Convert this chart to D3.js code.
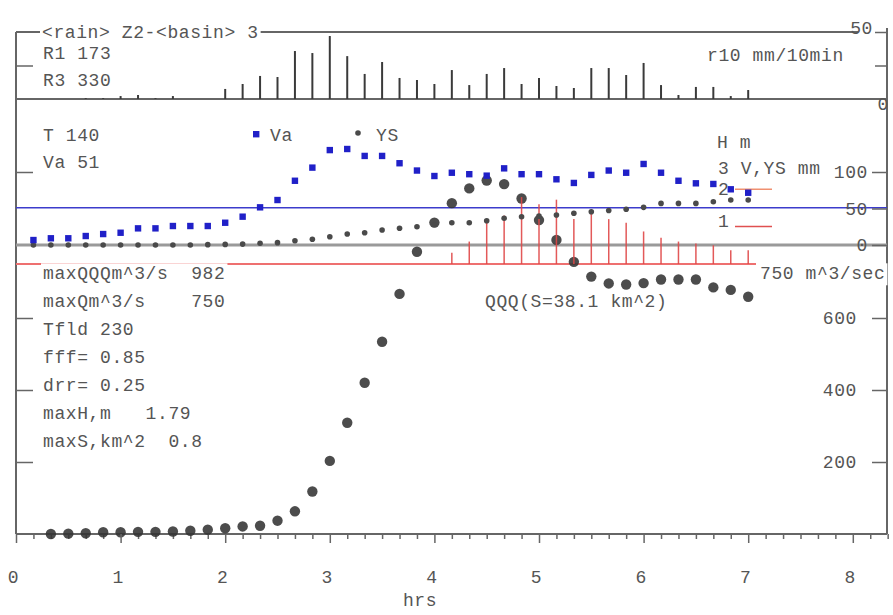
<!DOCTYPE html>
<html>
<head>
<meta charset="utf-8">
<script src="https://cdn.jsdelivr.net/npm/d3@7"></script>
<style>
  body { margin: 0; background: #fff; }
  svg text { font-family: "Liberation Mono", "DejaVu Sans Mono", monospace; font-size: 18px; letter-spacing: 0.6px; fill: #555; white-space: pre; }
</style>
</head>
<body>
<svg id="chart" width="893" height="615"></svg>
<script>
// ---- data: one value every 10 minutes, step k is at k/6 hours ----
const hourTicks = [0, 1, 2, 3, 4, 5, 6, 7, 8];

// r10 rainfall, mm per 10 min, steps 0..42
const rain = [0, 0, 0, 0, 0.7, 0.7, 2.2, 3.0, 0.7, 2.2, 0, 0,
  7.5, 11.2, 17.2, 16.4, 35.8, 34.3, 47.0, 32.0, 18.7, 27.6, 15.7, 14.2, 11.2,
  21.6, 10.4, 18.7, 23.1, 11.2, 15.7, 9.7, 8.2, 23.1, 23.1, 17.9, 26.9, 10.4,
  3.0, 9.0, 9.0, 2.2, 6.7];

// Va, mm, steps 1..42
const vaStart = 1;
const va = [6.8, 9.2, 9.2, 12.3, 15, 16.8, 22.8, 22.8, 26, 26, 26, 30.5, 38.8,
  51.6, 61.6, 88, 106, 130, 131.5, 122, 122, 112, 102, 94.5, 99, 97, 95, 105,
  97, 97, 90, 85, 96, 102, 99, 111, 99, 88, 84.5, 83.6, 76.3, 71.6];

// YS, mm, steps 1..42
const ysStart = 1;
const ys = [0, 0, 0, 0, 0, 0, 0, 0, 0, 0, 0.5, 0.8, 1.2, 2.3, 3.2, 5.9, 7.8,
  11.4, 15, 16.8, 20.5, 22.9, 25, 28, 30.5, 30.5, 33.3, 36.6, 38.8, 39.5, 41,
  43.4, 45.6, 47.3, 48.9, 51.6, 57, 57, 57, 59.3, 61.6, 61.6];

// QQQ discharge, m^3/s, steps 2..42
const qqqStart = 2;
const qqq = [0, 1, 2, 5, 5, 6, 6, 7, 9, 12, 16, 21, 23, 37, 63, 118, 203, 309,
  420, 534, 667, 784, 865, 919, 960, 982, 972, 932, 872, 817, 756, 715, 696,
  693, 697, 707, 707, 707, 685, 678, 659];

// flood depth H, m, steps 25..42 (drawn from the maxQ level)
const hStart = 25;
const hDepth = [0.3, 0.6, 1.2, 1.3, 1.79, 1.6, 1.72, 1.2, 1.45, 1.2, 1.1, 0.87,
  0.7, 0.6, 0.55, 0.5, 0.37, 0.37];

const title = "<rain> Z2-<basin> 3";
const rainStats = ["R1 173", "R3 330"];
const runStats = ["T 140", "Va 51"];
const floodStats = ["maxQQQm^3/s  982", "maxQm^3/s    750", "Tfld 230", "fff= 0.85",
  "drr= 0.25", "maxH,m   1.79", "maxS,km^2  0.8"];
const vaLimit = 51;
const maxQ = 750;
const rainTicks = [0, 25, 50];
const vTicks = [0, 50, 100];
const hTicks = [1, 2];
const qTicks = [200, 400, 600];

// ---- layout ----
const svg = d3.select("#chart");
const left = 16, right = 887, bottom = 534;

const x = d3.scaleLinear().domain([0, 8]).range([16, 852.8]);
const stepX = k => x(k / 6);
const yR = d3.scaleLinear().domain([0, 50]).range([99, 32]);
const yV = d3.scaleLinear().domain([0, 100]).range([245, 172]);
const yQ = d3.scaleLinear().domain([0, 600]).range([534, 318]);
const yH = d3.scaleLinear().domain([0, 1]).range([yQ(maxQ), yQ(maxQ) - 37.4]);

const frameColor = "#666";

function label(g, tx, ty, str, opts = {}) {
  const t = g.append("text").attr("x", tx).attr("y", ty).attr("dy", "0.35em")
    .attr("text-anchor", opts.anchor || "start").text(str);
  if (opts.bg) {
    const b = t.node().getBBox();
    g.insert("rect", () => t.node())
      .attr("x", b.x - 2).attr("y", b.y - 1).attr("width", b.width + 4).attr("height", b.height + 2)
      .attr("fill", "#fff");
  }
  return t;
}

function styleAxis(g) {
  g.select(".domain").remove();
  g.selectAll("line").attr("stroke", frameColor).attr("stroke-width", 1.5);
  g.selectAll("text").attr("font-size", null).attr("font-family", null).attr("fill", null);
}

const gLines = svg.append("g");
const gMarks = svg.append("g");
const gText = svg.append("g");

// frame
gLines.append("line").attr("x1", left).attr("x2", left).attr("y1", yR(50)).attr("y2", bottom)
  .attr("stroke", frameColor).attr("stroke-width", 2);
gLines.append("line").attr("x1", right).attr("x2", right).attr("y1", yR(50) - 4).attr("y2", bottom)
  .attr("stroke", frameColor).attr("stroke-width", 2);
gLines.append("line").attr("x1", left).attr("x2", 858).attr("y1", yR(50)).attr("y2", yR(50))
  .attr("stroke", frameColor).attr("stroke-width", 2);
gLines.append("line").attr("x1", left).attr("x2", right).attr("y1", yR(0)).attr("y2", yR(0))
  .attr("stroke", frameColor).attr("stroke-width", 2);
gLines.append("line").attr("x1", left).attr("x2", right).attr("y1", bottom).attr("y2", bottom)
  .attr("stroke", frameColor).attr("stroke-width", 2);

// rain axis ticks (both sides, pointing inward)
gLines.append("g").attr("transform", `translate(${left},0)`)
  .call(d3.axisRight(yR).tickValues([25]).tickSize(17).tickFormat(""))
  .call(styleAxis);
const gRainAx = gText.append("g").attr("transform", `translate(${right},0)`)
  .call(d3.axisLeft(yR).tickValues(rainTicks).tickSize(12).tickPadding(2).tickFormat(d => d === 25 ? "" : d))
  .call(styleAxis);
gRainAx.selectAll(".tick").filter(d => d === 50).select("text").attr("dy", "0.1em");
gRainAx.selectAll(".tick").filter(d => d === 0).call(t => {
  t.select("line").remove();
  t.select("text").attr("text-anchor", "end").attr("x", 2).attr("dy", "0.6em");
});

// rain bars
gMarks.append("g").selectAll("line").data(rain.map((v, k) => ({ k, v })).filter(d => d.v > 0))
  .join("line")
  .attr("x1", d => stepX(d.k)).attr("x2", d => stepX(d.k))
  .attr("y1", yR(0)).attr("y2", d => yR(d.v))
  .attr("stroke", "#3a3a3a").attr("stroke-width", 2);

// reference lines in the runoff panel
gLines.append("line").attr("x1", left).attr("x2", right).attr("y1", yV(0)).attr("y2", yV(0))
  .attr("stroke", "#9a9a9a").attr("stroke-width", 3);
gLines.append("line").attr("x1", left).attr("x2", right).attr("y1", yV(vaLimit)).attr("y2", yV(vaLimit))
  .attr("stroke", "#3c3ccc").attr("stroke-width", 1.5);
gLines.append("line").attr("x1", left).attr("x2", 756).attr("y1", yQ(maxQ)).attr("y2", yQ(maxQ))
  .attr("stroke", "#ee7070").attr("stroke-width", 2);

// V / YS axis ticks
gText.append("g").attr("transform", `translate(${right},0)`)
  .call(d3.axisLeft(yV).tickValues(vTicks).tickSize(15).tickPadding(4))
  .call(styleAxis);
gLines.append("g").attr("transform", `translate(${left},0)`)
  .call(d3.axisRight(yV).tickValues([100]).tickSize(17).tickFormat(""))
  .call(styleAxis);

// Q axis ticks
gText.append("g").attr("transform", `translate(${right},0)`)
  .call(d3.axisLeft(yQ).tickValues(qTicks).tickSize(15).tickPadding(15))
  .call(styleAxis);
gLines.append("g").attr("transform", `translate(${left},0)`)
  .call(d3.axisRight(yQ).tickValues(qTicks).tickSize(17).tickFormat(""))
  .call(styleAxis);

// time axis: 10-minute minor ticks, hourly labels
const minor = d3.range(0, 51).map(k => k / 6).filter(t => Math.abs(t - Math.round(t)) > 1e-6);
gLines.append("g").attr("transform", `translate(0,${bottom})`)
  .call(d3.axisBottom(x).tickValues(minor).tickSize(5).tickFormat(""))
  .call(styleAxis);
const gX = gText.append("g").attr("transform", `translate(0,${bottom})`)
  .call(d3.axisBottom(x).tickValues(hourTicks).tickSize(9).tickPadding(27))
  .call(styleAxis);
gX.selectAll("text").attr("dx", "-3");
label(gText, 420, 600, "hrs", { anchor: "middle" });

// QQQ discharge dots
gMarks.append("g").selectAll("circle").data(qqq).join("circle")
  .attr("cx", (d, i) => stepX(i + qqqStart)).attr("cy", d => yQ(d)).attr("r", 5.2)
  .attr("fill", "#333").attr("opacity", 0.88);

// flood depth stems
gMarks.append("g").selectAll("line").data(hDepth).join("line")
  .attr("x1", (d, i) => stepX(i + hStart)).attr("x2", (d, i) => stepX(i + hStart))
  .attr("y1", yH(0)).attr("y2", d => yH(d))
  .attr("stroke", "#e04848").attr("stroke-width", 1.5).attr("opacity", 0.9);

// H level marks
gMarks.append("g").selectAll("line").data(hTicks).join("line")
  .attr("x1", 735).attr("x2", 772).attr("y1", d => yH(d)).attr("y2", d => yH(d))
  .attr("stroke", d => d === 2 ? "#f09070" : "#e05050").attr("stroke-width", 1.5);

// YS dots
gMarks.append("g").selectAll("circle").data(ys).join("circle")
  .attr("cx", (d, i) => stepX(i + ysStart)).attr("cy", d => yV(d)).attr("r", 2.8)
  .attr("fill", "#4a4a4a");

// Va squares
gMarks.append("g").selectAll("rect").data(va).join("rect")
  .attr("x", (d, i) => stepX(i + vaStart) - 3.2).attr("y", d => yV(d) - 3.2)
  .attr("width", 6.4).attr("height", 6.4).attr("fill", "#2020c8");

// legend
gMarks.append("rect").attr("x", 253).attr("y", 131).attr("width", 6.4).attr("height", 6.4).attr("fill", "#2020c8");
label(gText, 270, 135, "Va");
gMarks.append("circle").attr("cx", 358).attr("cy", 133).attr("r", 2.8).attr("fill", "#4a4a4a");
label(gText, 376, 135, "YS");

// texts
label(gText, 42, yR(50), title, { bg: true });
rainStats.forEach((s, i) => label(gText, 43, 53 + i * 27, s));
label(gText, 707, 55, "r10 mm/10min");
runStats.forEach((s, i) => label(gText, 43, 135 + i * 27, s));
floodStats.forEach((s, i) => label(gText, 43, 273 + i * 28, s, { bg: i === 0 }));
label(gText, 760, 273, "750 m^3/sec", { bg: true });
label(gText, 485, 301, "QQQ(S=38.1 km^2)");
label(gText, 717, 142, "H m");
label(gText, 718, 168, "3 V,YS mm");
label(gText, 718, 189, "2");
label(gText, 718, 221, "1");
</script>
</body>
</html>
